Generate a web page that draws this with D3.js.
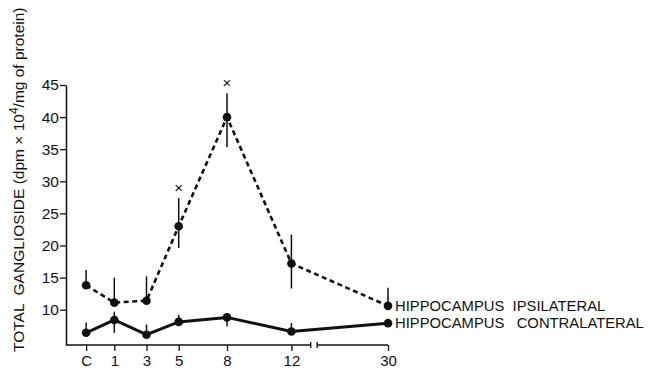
<!DOCTYPE html>
<html>
<head>
<meta charset="utf-8">
<script src="https://cdn.jsdelivr.net/npm/d3@7"></script>
<style>
    body { margin: 0; background: #fff; }
    svg text { font-family: "Liberation Sans", Arial, sans-serif; fill: #111; }
</style>
</head>
<body>
<div id="chart"></div>
<script>
// days after lesion, C = control
const categories = ["C", "1", "3", "5", "8", "12", "30"];
const dayPos = [-0.75, 1, 3, 5, 8, 12, 18];   // where each category sits on the (broken) day axis
const yTicks = [10, 15, 20, 25, 30, 35, 40, 45];

const ipsiMean = [13.8, 11.1, 11.4, 23.0, 40.0, 17.2, 10.6];
const ipsiHigh = [16.2, 15.0, 15.2, 27.4, 43.7, 21.7, 13.4];
const ipsiLow  = [13.8, 11.1, 11.4, 19.6, 35.3, 13.3, 10.6];
const ipsiSignif = [false, false, false, true, true, false, false];

const contraMean = [6.4, 8.4, 6.1, 8.1, 8.8, 6.6, 7.9];
const contraHigh = [8.0, 9.7, 7.7, 9.2, 9.5, 7.9, 7.9];
const contraLow  = [6.4, 6.4, 6.1, 8.1, 7.4, 6.6, 7.9];

(function () {
    const WIDTH = 650;
    const HEIGHT = 372;
    const INK = "#111";

    const svg = d3.select("#chart").append("svg")
        .attr("width", WIDTH)
        .attr("height", HEIGHT);

    const x = d3.scaleLinear().domain([-2, 18]).range([66, 388]);
    const y = d3.scaleLinear().domain([4.5, 45]).range([345, 85]);

    // y axis
    const yAxis = svg.append("g")
        .attr("transform", `translate(${x(-2)},0)`)
        .call(d3.axisLeft(y).tickValues(yTicks).tickSize(6).tickSizeOuter(0).tickPadding(1));
    yAxis.select(".domain").attr("stroke", INK).attr("stroke-width", 1.5);
    yAxis.selectAll(".tick line").attr("stroke", INK).attr("stroke-width", 1.3);
    yAxis.selectAll(".tick text").attr("font-size", 15.5).attr("fill", INK);

    // x axis, broken between 12 and 30
    const xAxis = svg.append("g")
        .attr("transform", `translate(0,${y(4.5)})`)
        .call(d3.axisBottom(x).tickValues(dayPos)
            .tickFormat((d, i) => categories[i])
            .tickSize(6).tickPadding(4));
    xAxis.select(".domain").remove();
    xAxis.selectAll(".tick line").attr("stroke", INK).attr("stroke-width", 1.3);
    xAxis.selectAll(".tick text").attr("font-size", 15).attr("fill", INK);

    let segments = [[-2, 13.2], [13.6, 18]];
    segments.forEach(function (s) {
        xAxis.append("line")
            .attr("x1", x(s[0])).attr("x2", x(s[1]))
            .attr("stroke", INK).attr("stroke-width", 1.5);
    });
    [13.2, 13.6].forEach(function (b) {
        xAxis.append("line")
            .attr("x1", x(b)).attr("x2", x(b))
            .attr("y1", -3).attr("y2", 3)
            .attr("stroke", INK).attr("stroke-width", 1.3);
    });

    let drawSeries = function (mean, high, low, dashed, width) {
        let g = svg.append("g");
        let line = d3.line()
            .x((d, i) => x(dayPos[i]))
            .y(d => y(d));
        g.append("path")
            .datum(mean)
            .attr("d", line)
            .attr("fill", "none")
            .attr("stroke", INK)
            .attr("stroke-width", width)
            .attr("stroke-dasharray", dashed ? "5,3.5" : null);
        g.selectAll(".err")
            .data(mean)
            .join("line")
            .attr("x1", (d, i) => x(dayPos[i]))
            .attr("x2", (d, i) => x(dayPos[i]))
            .attr("y1", (d, i) => y(high[i]))
            .attr("y2", (d, i) => y(low[i]))
            .attr("stroke", INK)
            .attr("stroke-width", 1.5);
        g.selectAll("circle")
            .data(mean)
            .join("circle")
            .attr("cx", (d, i) => x(dayPos[i]))
            .attr("cy", d => y(d))
            .attr("r", 4.3)
            .attr("fill", INK);
        return g;
    };

    drawSeries(ipsiMean, ipsiHigh, ipsiLow, true, 2.6);
    drawSeries(contraMean, contraHigh, contraLow, false, 3);

    // significance marks
    svg.selectAll(".signif")
        .data(ipsiMean.map((d, i) => i).filter(i => ipsiSignif[i]))
        .join("text")
        .attr("x", i => x(dayPos[i]))
        .attr("y", i => y(ipsiHigh[i]) - 5)
        .attr("text-anchor", "middle")
        .attr("font-size", 15)
        .text("×");

    // series labels at the right end
    const last = categories.length - 1;
    svg.append("text")
        .attr("x", x(dayPos[last]) + 7)
        .attr("y", y(ipsiMean[last]) + 5)
        .attr("font-size", 14.8)
        .style("white-space", "pre")
        .text("HIPPOCAMPUS  IPSILATERAL");
    svg.append("text")
        .attr("x", x(dayPos[last]) + 7)
        .attr("y", y(contraMean[last]) + 5)
        .attr("font-size", 14.8)
        .style("white-space", "pre")
        .text("HIPPOCAMPUS   CONTRALATERAL");

    // y title
    let title = svg.append("text")
        .attr("transform", "translate(24,352) rotate(-90)")
        .attr("font-size", 15.5)
        .style("white-space", "pre");
    title.append("tspan").text("TOTAL  GANGLIOSIDE (dpm × 10");
    title.append("tspan").attr("dy", -6).attr("font-size", 12).text("4");
    title.append("tspan").attr("dy", 6).text("/mg of protein)");
})();
</script>
</body>
</html>
